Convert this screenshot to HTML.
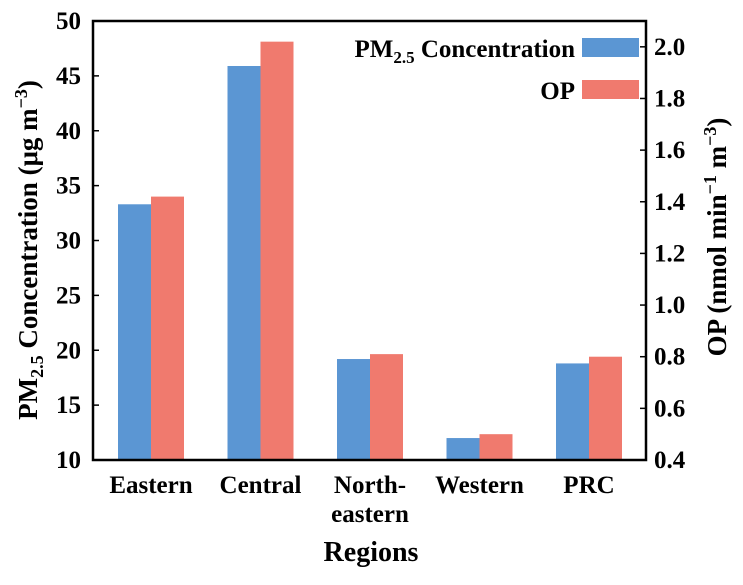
<!DOCTYPE html>
<html><head><meta charset="utf-8"><style>
body{margin:0;background:#fff}
text{font-family:'Liberation Serif','DejaVu Serif','Times New Roman',serif !important;font-weight:bold;fill:#000}
</style></head><body>
<svg id="c" width="743" height="580" xmlns="http://www.w3.org/2000/svg" font-family="Liberation Serif, DejaVu Serif, serif" font-weight="bold"></svg>
<script>
const categories=[["Eastern"],["Central"],["North-","eastern"],["Western"],["PRC"]];
const pmValues=[33.3,45.9,19.2,12.0,18.8];
const opValues=[1.42,2.02,0.81,0.50,0.80];
const leftTicks=[10,15,20,25,30,35,40,45,50];
const rightTicks=[0.4,0.6,0.8,1.0,1.2,1.4,1.6,1.8,2.0];
const rightTickLabels=["0.4","0.6","0.8","1.0","1.2","1.4","1.6","1.8","2.0"];

const svg=document.getElementById('c');
const NS="http://www.w3.org/2000/svg";
const X0=93,X1=646,Y0=460,Y1=21;
const yL=v=>Y0-(v-10)/(50-10)*(Y0-Y1);
const yR=v=>Y0-(v-0.4)/(2.1-0.4)*(Y0-Y1);
const xC=i=>151+i*109.5;
const BW=33;
function el(t,a,txt){const e=document.createElementNS(NS,t);for(const k in a)e.setAttribute(k,a[k]);if(txt!==undefined)e.textContent=txt;svg.appendChild(e);return e;}

pmValues.forEach((v,i)=>{
  const r=el('rect',{x:xC(i)-BW,y:yL(v),width:BW,height:Y0-yL(v),fill:'#5b96d3'});
  
  
});
opValues.forEach((v,i)=>{
  const r=el('rect',{x:xC(i),y:yR(v),width:BW,height:Y0-yR(v),fill:'#f07a6e'});
  
  
});
const f=el('path',{d:`M${X0},${Y1}H${X1}V${Y0}H${X0}Z`,fill:'none',stroke:'#000','stroke-width':2.5});


leftTicks.forEach(v=>{
  el('line',{x1:X0,x2:X0+6,y1:yL(v),y2:yL(v),stroke:'#000','stroke-width':1.5});
  const t=el('text',{x:81,y:yL(v)+8,'text-anchor':'end','font-size':25},String(v));
  
  
});
rightTicks.forEach((v,i)=>{
  el('line',{x1:X1-6,x2:X1,y1:yR(v),y2:yR(v),stroke:'#000','stroke-width':1.5});
  const t=el('text',{x:654,y:yR(v)+8,'font-size':25},rightTickLabels[i]);
  
  
});
categories.forEach((c,i)=>{
  c.forEach((s,j)=>{
    const t=el('text',{x:xC(i),y:493+j*29,'text-anchor':'middle','font-size':25},s);
    
    
  });
});
</script>
<svg width="743" height="580" style="position:absolute;left:0;top:0" xmlns="http://www.w3.org/2000/svg" font-family="Liberation Serif, DejaVu Serif, serif" font-weight="bold">
<text x="371" y="561" text-anchor="middle" font-size="28">Regions</text>
<text transform="translate(37,250) rotate(-90)" text-anchor="middle" font-size="27">PM<tspan font-size="18" dy="6">2.5</tspan><tspan dy="-6"> Concentration (μg m</tspan><tspan font-size="18" dy="-10">−3</tspan><tspan dy="10">)</tspan></text>
<text transform="translate(726,237) rotate(-90)" text-anchor="middle" font-size="27">OP (nmol min<tspan font-size="18" dy="-10">−1</tspan><tspan dy="10"> m</tspan><tspan font-size="18" dy="-10">−3</tspan><tspan dy="10">)</tspan></text>
<g>
<text x="575" y="57" text-anchor="end" font-size="25">PM<tspan font-size="17" dy="6">2.5</tspan><tspan dy="-6"> Concentration</tspan></text>
<rect x="582" y="38" width="57" height="19" fill="#5b96d3"/>
<text x="575" y="99" text-anchor="end" font-size="25">OP</text>
<rect x="582" y="80" width="57" height="19" fill="#f07a6e"/>
</g>
</svg>
</body></html>
